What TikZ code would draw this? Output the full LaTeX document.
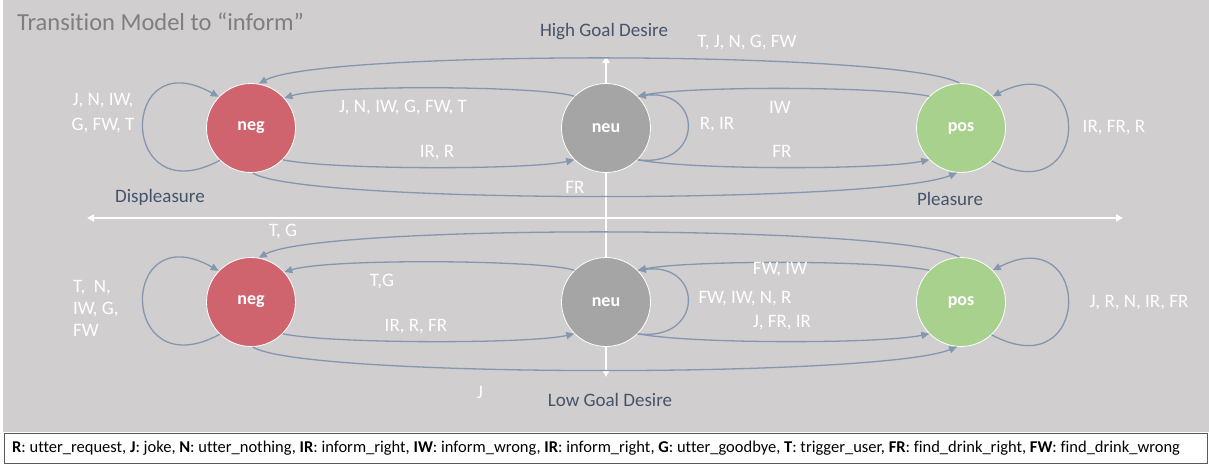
\documentclass[tikz,border=0pt]{standalone}
\usepackage{fontspec}
\setmainfont{Carlito}[Ligatures=NoCommon]
\usetikzlibrary{arrows.meta}
\definecolor{bgc}{HTML}{D0CECE}
\definecolor{edgec}{HTML}{8497B0}
\definecolor{negc}{HTML}{D0646E}
\definecolor{neuc}{HTML}{A5A5A5}
\definecolor{posc}{HTML}{A9D18E}
\definecolor{axlab}{HTML}{44546A}
\definecolor{titlec}{HTML}{7F7F7F}
\definecolor{framec}{HTML}{595959}
\begin{document}
\begin{tikzpicture}[x=1pt,y=-1pt,
  state/.style={circle,draw=white,line width=0.8pt,minimum size=89pt,inner sep=0pt,
    text=white,font=\fontsize{18}{20}\selectfont\bfseries},
  trans/.style={draw=edgec,line width=1.3pt,-{Triangle[length=8pt,width=7pt]}},
  elab/.style={text=white,font=\fontsize{19}{25}\selectfont,inner sep=0pt},
  axlabel/.style={text=axlab,font=\fontsize{19}{21}\selectfont,inner sep=0pt},
  axis/.style={draw=white,line width=1.8pt,{Triangle[length=7pt,width=7pt]}-{Triangle[length=7pt,width=7pt]}}]
\useasboundingbox (0,0) rectangle (1209,466);
\fill[white] (0,0) rectangle (1209,466);
\fill[bgc] (3,0) rectangle (1209,432);

% title
\node[anchor=west,text=titlec,font=\fontsize{24.5}{26}\selectfont,inner sep=0pt] (title) at (17,22) {Transition Model to “inform”};

% pleasure / goal-desire axes
\coordinate (xl) at (87,218);
\coordinate (xr) at (1123,218);
\coordinate (yt) at (606,56);
\coordinate (yb) at (606,377);
\draw[axis] (xl) -- (xr);
\draw[axis] (yb) -- (yt);

\node[axlabel] (hgd) at (604,32) {High Goal Desire};
\node[axlabel] (lgd) at (610,400) {Low Goal Desire};
\node[axlabel] (dpl) at (160,197) {Displeasure};
\node[axlabel] (pls) at (950,199) {Pleasure};

% two rows of states with their transitions
\foreach \r/\c in {A/128,B/302}{
  \node[state,fill=negc] (neg\r) at (251,\c) {neg};
  \node[state,fill=neuc] (neu\r) at (606,\c) {neu};
  \node[state,fill=posc] (pos\r) at (961,\c) {pos};
  % self loops
  \draw[trans] (neg\r.-134) .. controls (118,{\c+87}) and (118,{\c-88}) .. (neg\r.136);
  \draw[trans] (neu\r.-45) .. controls (704,{\c+40}) and (704,{\c-40}) .. (neu\r.45);
  \draw[trans] (pos\r.-47) .. controls (1093,{\c+87}) and (1093,{\c-83}) .. (pos\r.45);
  % transitions between states
  \draw[trans] (pos\r.92) .. controls (900,{\c-78}) and (320,{\c-78}) .. (neg\r.80);
  \draw[trans] (neu\r.135) .. controls (545,{\c-42}) and (330,{\c-44}) .. (neg\r.42);
  \draw[trans] (neg\r.-45) .. controls (330,{\c+42}) and (530,{\c+42}) .. (neu\r.-135);
  \draw[trans] (neg\r.-88) .. controls (300,{\c+76}) and (880,{\c+76}) .. (pos\r.-95);
  \draw[trans] (neu\r.-45) .. controls (690,{\c+42}) and (880,{\c+42}) .. (pos\r.-135);
  \draw[trans] (pos\r.135) .. controls (880,{\c-42}) and (690,{\c-42}) .. (neu\r.45);
}

% labels, upper row
\node[elab,align=center] (la1) at (103,113) {J, N, IW,\\G, FW, T};
\node[elab] (la2) at (403,108) {J, N, IW, G, FW, T};
\node[elab] (la3) at (437,153) {IR, R};
\node[elab] (la4) at (575,187) {FR};
\node[elab] (la5) at (717,125) {R, IR};
\node[elab] (la6) at (780,107) {IW};
\node[elab] (la7) at (782,151) {FR};
\node[elab] (la8) at (747,43) {T, J, N, G, FW};
\node[elab] (la9) at (1114,128) {IR, FR, R};

% labels, lower row
\node[elab,align=left,anchor=west,font=\fontsize{19}{22}\selectfont] (lb1) at (73,308) {T,\ \ N,\\IW, G,\\FW};
\node[elab] (lb2) at (283,232) {T, G};
\node[elab] (lb3) at (382,282) {T,G};
\node[elab] (lb4) at (416,327) {IR, R, FR};
\node[elab] (lb5) at (480,392) {J};
\node[elab] (lb6) at (780,270) {FW, IW};
\node[elab] (lb7) at (745,299) {FW, IW, N, R};
\node[elab] (lb8) at (782,323) {J, FR, IR};
\node[elab] (lb9) at (1139,303) {J, R, N, IR, FR};

% abbreviation key
\draw[framec,line width=1pt] (4,433) rectangle (1207,463);
\node[anchor=west,inner sep=0pt,font=\fontsize{16.5}{18}\selectfont] (key) at (12,448)
  {\textbf{R}: utter\_request, \textbf{J}: joke, \textbf{N}: utter\_nothing, \textbf{IR}: inform\_right, \textbf{IW}: inform\_wrong, \textbf{IR}: inform\_right, \textbf{G}: utter\_goodbye, \textbf{T}: trigger\_user, \textbf{FR}: find\_drink\_right, \textbf{FW}: find\_drink\_wrong};
\end{tikzpicture}
\end{document}
